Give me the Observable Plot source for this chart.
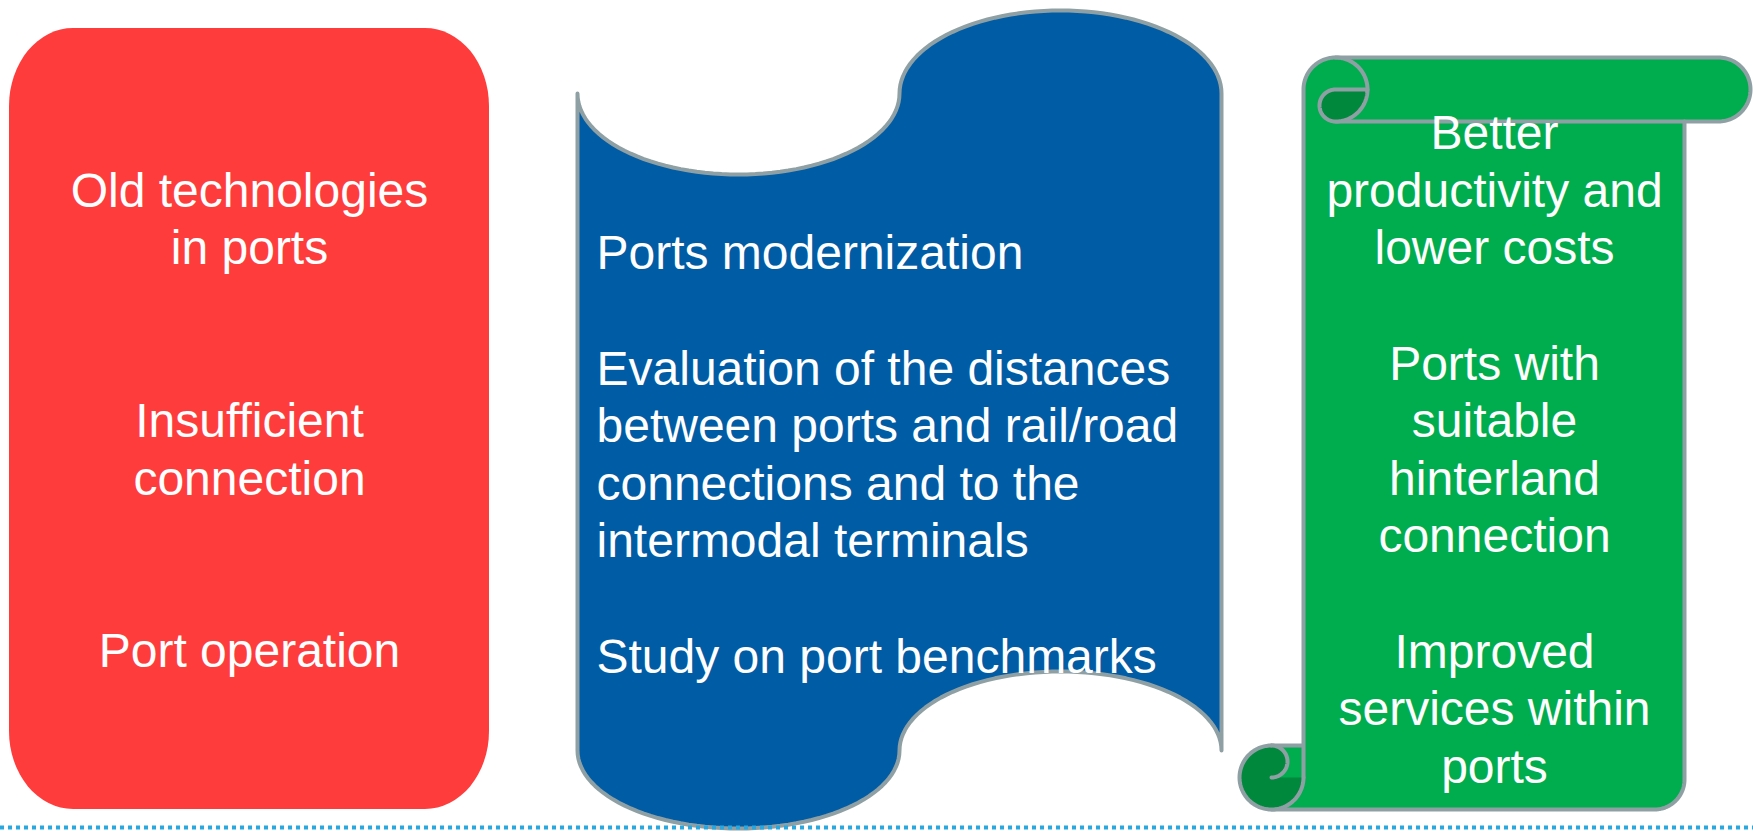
<!DOCTYPE html>
<html><head><meta charset="utf-8">
<script src="https://cdn.jsdelivr.net/npm/d3@7"></script>
<script src="https://cdn.jsdelivr.net/npm/@observablehq/plot@0.6"></script>
<style>html,body{margin:0;padding:0;background:#fff;overflow:hidden} svg{display:block}</style>
</head><body><div id="chart"></div>
<script>
// ---- content ----
const panels = ["problems", "actions", "results"];
const panelTexts = [
  "Old technologies\nin ports\n\n\nInsufficient\nconnection\n\n\nPort operation",
  "Ports modernization\n\nEvaluation of the distances\nbetween ports and rail/road\nconnections and to the\nintermodal terminals\n\nStudy on port benchmarks",
  "Better\nproductivity and\nlower costs\n\nPorts with\nsuitable\nhinterland\nconnection\n\nImproved\nservices within\nports"
];
const panelAnchors = ["middle", "start", "middle"];

// ---- styles ----
const RED = "#FF3C3C", BLUE = "#005CA5", GREEN = "#00AD4E", DARKGREEN = "#00883D";
const EDGE = "#8FA0A5", DOTS = "#29A8E0";
const W = 1753, H = 832;

// ---- layout (diagram geometry in page units) ----
const redBox = {x1: 9, x2: 489, y1: 28, y2: 809, rx: 64, ry: 78};
const textPos = [{x: 249, y: 418}, {x: 596, y: 452}, {x: 1494, y: 447}];

function arc(cx, cy, rx, ry, a0, a1, n = 60) {
  const pts = [];
  for (let i = 0; i <= n; i++) {
    const a = (a0 + (a1 - a0) * i / n) * Math.PI / 180;
    pts.push([cx + rx * Math.cos(a), cy + ry * Math.sin(a)]);
  }
  return pts;
}

// blue wavy banner
const bL = 577, bR = 1221, bM = 899, bTop = 93, bBot = 750;
const blueShape = [
  [bL, bBot], [bL, bTop],
  ...arc((bL + bM) / 2, bTop, (bM - bL) / 2, 81, 180, 0),
  ...arc((bM + bR) / 2, bTop, (bR - bM) / 2, 83, 180, 360),
  [bR, bBot],
  ...arc((bM + bR) / 2, bBot, (bR - bM) / 2, 79, 0, -180),
  ...arc((bL + bM) / 2, bBot, (bM - bL) / 2, 78, 0, 180)
];

// green scroll
const gL = 1303, gR = 1684, gTop = 57, gRoll = 121, gBot = 809, c = 32;
const scrollBody = [
  [gL, gBot - c], [gL, gTop + c],
  ...arc(gL + c, gTop + c, c, c, 180, 270),
  [1718, gTop],
  ...arc(1718, gTop + c, c, c, -90, 90),
  [gR, gRoll], [gR, gBot - 30],
  ...arc(gR - 30, gBot - 30, 30, 30, 0, 90),
  [gL - c, gBot], [gL - c, gBot - 2 * c], [gL, gBot - 2 * c], [gL, gBot - c]
];
const rollLine = [[gL + c, gRoll], [gR, gRoll]];
const topCurlDark = [
  [gL + c, gTop + c], [gL + 2 * c, gTop + c],
  ...arc(gL + c, gTop + c, c, c, 0, 90),
  ...arc(gL + c, gTop + c + c / 2, c / 2, c / 2, 90, 270)
];
const topCurlArc = arc(gL + c, gTop + c, c, c, -90, 0);
const botCurlDark = [
  ...arc(gL - c, gBot - c, c, c, -90, -360),
  [gL - c, gBot - c],
  ...arc(gL - c, gBot - c - c / 2, c / 2, c / 2, 90, -90)
];
const botCurlOuter = arc(gL - c, gBot - c, c, c, -90, -360);
const botCurlInner = arc(gL - c, gBot - c - c / 2, c / 2, c / 2, 90, -90);

const P = {x: d => d[0], y: d => d[1]};
const textData = panels.map((p, i) => ({panel: p, text: panelTexts[i], ...textPos[i], anchor: panelAnchors[i]}));

const chart = Plot.plot({
  width: W, height: H, margin: 0,
  x: {domain: [0, W], range: [0, W], axis: null},
  y: {domain: [0, H], range: [0, H], axis: null},
  marks: [
    Plot.rect([redBox], {x1: "x1", x2: "x2", y1: "y1", y2: "y2", rx: redBox.rx, ry: redBox.ry, fill: RED}),
    Plot.line(blueShape, {...P, fill: BLUE, stroke: EDGE, strokeWidth: 4}),
    Plot.line(scrollBody, {...P, fill: GREEN, stroke: EDGE, strokeWidth: 4}),
    Plot.line(rollLine, {...P, stroke: EDGE, strokeWidth: 4}),
    Plot.line(topCurlDark, {...P, fill: DARKGREEN, stroke: EDGE, strokeWidth: 4}),
    Plot.line(topCurlArc, {...P, stroke: EDGE, strokeWidth: 4}),
    Plot.line(botCurlDark, {...P, fill: DARKGREEN, stroke: "none"}),
    Plot.line(botCurlOuter, {...P, stroke: EDGE, strokeWidth: 4}),
    Plot.line(botCurlInner, {...P, stroke: EDGE, strokeWidth: 4}),
    Plot.text(textData.filter(d => d.anchor === "middle"), {x: "x", y: "y", text: "text", textAnchor: "middle", fontSize: 48, lineHeight: 1.2, fill: "white", fontFamily: "Liberation Sans, Arial, sans-serif"}),
    Plot.text(textData.filter(d => d.anchor === "start"), {x: "x", y: "y", text: "text", textAnchor: "start", fontSize: 48, lineHeight: 1.2, fill: "white", fontFamily: "Liberation Sans, Arial, sans-serif"}),
    Plot.ruleY([827], {stroke: DOTS, strokeWidth: 4, strokeDasharray: "4,4", strokeLinecap: "butt"})
  ]
});
document.getElementById("chart").appendChild(chart);
</script>
</body></html>
